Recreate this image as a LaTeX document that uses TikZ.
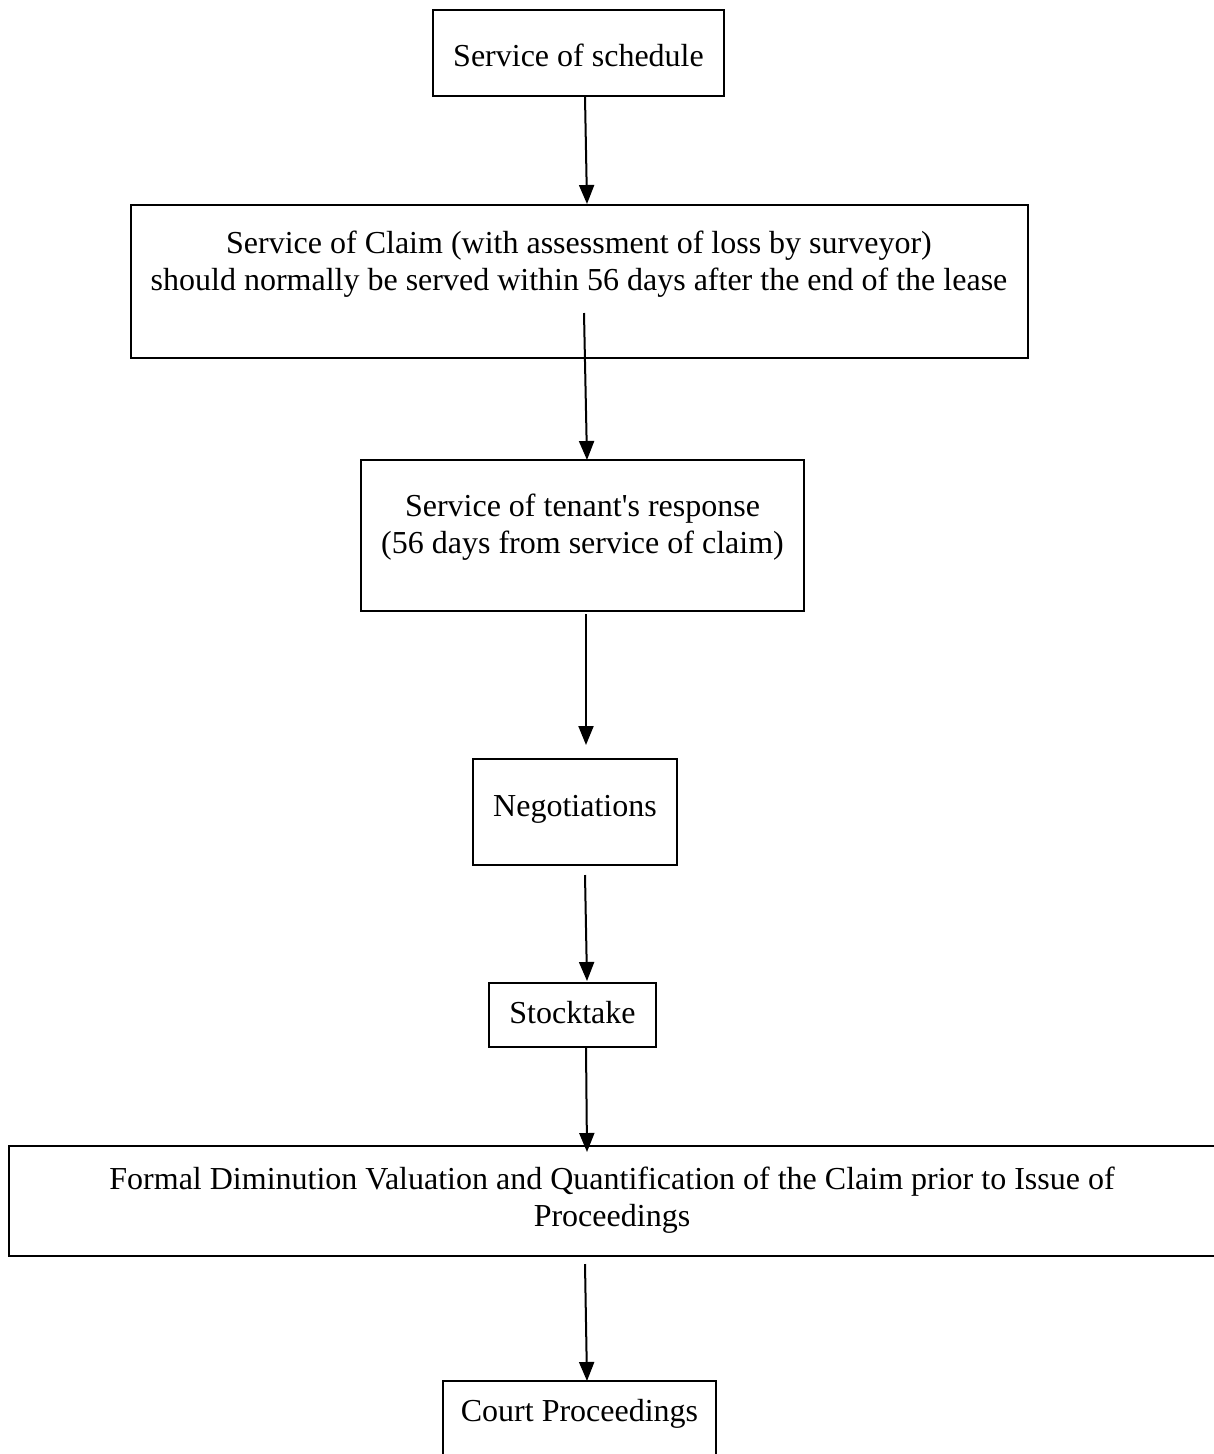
\documentclass[tikz,border=0pt]{standalone}
\usepackage{fontspec}
\setmainfont{Liberation Serif}
\usetikzlibrary{arrows.meta}
\begin{document}
\begin{tikzpicture}[x=1pt,y=1pt,
  boxline/.style={draw=black,line width=2pt},
  lbl/.style={inner sep=0pt,align=center,font=\fontsize{32}{37}\selectfont},
  conn/.style={draw=black,line width=2pt,-{Triangle[width=15pt,length=19pt]}}]
\clip (0,0) rectangle (1214,-1454);
% boxes
\path[boxline] (433,-10) rectangle (724,-96);
\path[boxline] (131,-205) rectangle (1028,-358);
\path[boxline] (361,-460) rectangle (804,-611);
\path[boxline] (473,-759) rectangle (677,-865);
\path[boxline] (489,-983) rectangle (656,-1047);
\path[boxline] (9,-1146) rectangle (1222,-1256);
\path[boxline] (443,-1381) rectangle (716,-1475);
% texts
\node[lbl] (t1) at (578.5,-55) {Service of schedule};
\node[lbl] (t2) at (579,-264.5) {Service of Claim (with assessment of loss by surveyor)\\should normally be served within 56 days after the end of the lease};
\node[lbl] (t3) at (582.5,-527.5) {Service of tenant\textquotesingle s response\\(56 days from service of claim)};
\node[lbl] (t4) at (575,-809) {Negotiations};
\node[lbl] (t5) at (572.5,-1013) {Stocktake};
\node[lbl] (t6) at (612,-1200) {Formal Diminution Valuation and Quantification of the Claim prior to Issue of\\Proceedings};
\node[lbl] (t7) at (579.5,-1414) {Court Proceedings};
% connector endpoints
\coordinate (s1) at (585,-97);   \coordinate (e1) at (587,-204);
\coordinate (s2) at (584,-313);  \coordinate (e2) at (587,-460);
\coordinate (s3) at (586,-614);  \coordinate (e3) at (586,-745);
\coordinate (s4) at (585,-875);  \coordinate (e4) at (587,-981);
\coordinate (s5) at (586,-1047); \coordinate (e5) at (587,-1152);
\coordinate (s6) at (585,-1264); \coordinate (e6) at (587,-1381);
\draw[conn] (s1) -- (e1);
\draw[conn] (s2) -- (e2);
\draw[conn] (s3) -- (e3);
\draw[conn] (s4) -- (e4);
\draw[conn] (s5) -- (e5);
\draw[conn] (s6) -- (e6);
\end{tikzpicture}
\end{document}
